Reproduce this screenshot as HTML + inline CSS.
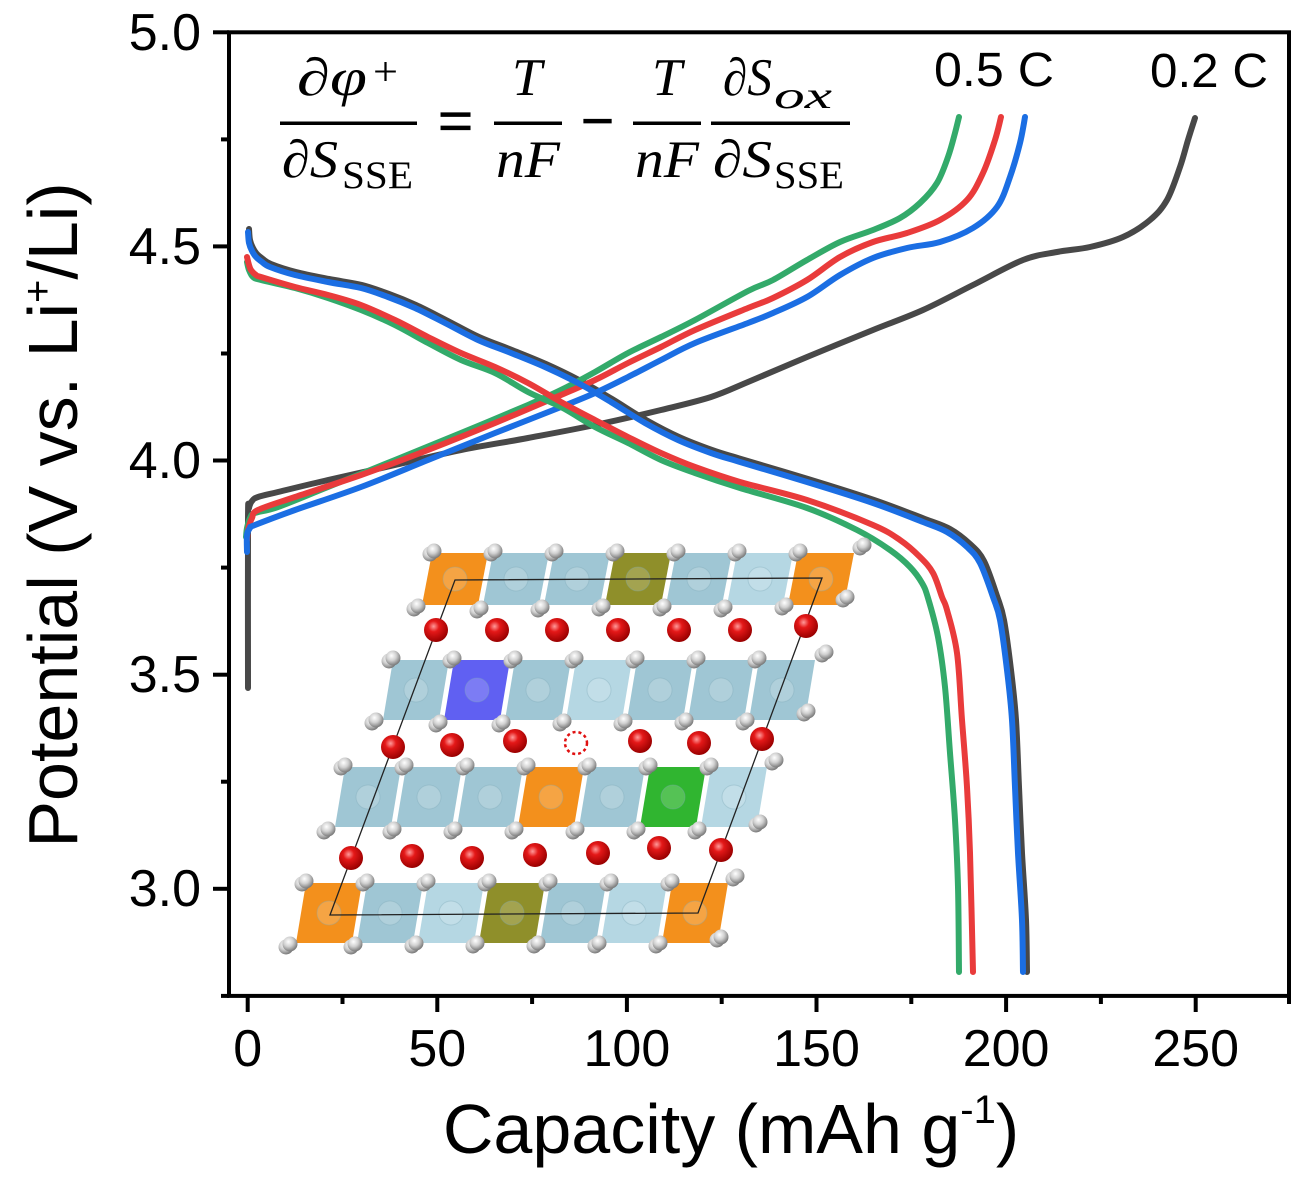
<!DOCTYPE html>
<html>
<head>
<meta charset="utf-8">
<style>
html,body{margin:0;padding:0;background:#fff;}
svg{display:block;}
.tk{font-family:"Liberation Sans",Arial,sans-serif;font-size:52px;fill:#000;}
.lab{font-family:"Liberation Sans",Arial,sans-serif;font-size:70px;fill:#000;}
.eq{font-family:"Liberation Serif","DejaVu Serif",serif;font-style:italic;font-size:53px;fill:#000;}
.equ{font-family:"Liberation Serif","DejaVu Serif",serif;font-style:normal;fill:#000;}
.cv{fill:none;stroke-width:6;stroke-linejoin:round;stroke-linecap:round;}
.lb{fill:#9fc6d4;}
.ll{fill:#b5d7e3;}
.or{fill:#f3901c;}
.ol{fill:#8f8f2a;}
.bl{fill:#6060f2;}
.gr{fill:#30b530;}
</style>
</head>
<body>
<svg width="1298" height="1181" viewBox="0 0 1298 1181" xmlns="http://www.w3.org/2000/svg">
<defs>
<radialGradient id="rg" cx="0.4" cy="0.35" r="0.65">
<stop offset="0" stop-color="#ff9a9a"/>
<stop offset="0.35" stop-color="#e41818"/>
<stop offset="1" stop-color="#9a0000"/>
</radialGradient>
<radialGradient id="wg" cx="0.4" cy="0.35" r="0.65">
<stop offset="0" stop-color="#ffffff"/>
<stop offset="0.5" stop-color="#d0d0d0"/>
<stop offset="1" stop-color="#7a7a7a"/>
</radialGradient>
<g id="ws"><circle cx="-4" cy="3" r="7.5" fill="url(#wg)"/><circle cx="0" cy="0" r="7.5" fill="url(#wg)"/></g>
<circle id="rs" cx="0" cy="0" r="12" fill="url(#rg)"/>
</defs>

<!-- axes frame -->
<rect x="229" y="32.3" width="1060" height="963.6" fill="none" stroke="#000" stroke-width="4"/>
<g stroke="#000" stroke-width="4">
<line x1="213" y1="32.3" x2="229" y2="32.3"/>
<line x1="213" y1="246.4" x2="229" y2="246.4"/>
<line x1="213" y1="460.5" x2="229" y2="460.5"/>
<line x1="213" y1="674.7" x2="229" y2="674.7"/>
<line x1="213" y1="888.8" x2="229" y2="888.8"/>
<line x1="221" y1="139.4" x2="229" y2="139.4"/>
<line x1="221" y1="353.5" x2="229" y2="353.5"/>
<line x1="221" y1="567.6" x2="229" y2="567.6"/>
<line x1="221" y1="781.7" x2="229" y2="781.7"/>
<line x1="221" y1="995.9" x2="229" y2="995.9"/>
<line x1="247.7" y1="996" x2="247.7" y2="1012"/>
<line x1="437.3" y1="996" x2="437.3" y2="1012"/>
<line x1="626.9" y1="996" x2="626.9" y2="1012"/>
<line x1="816.5" y1="996" x2="816.5" y2="1012"/>
<line x1="1006.1" y1="996" x2="1006.1" y2="1012"/>
<line x1="1195.7" y1="996" x2="1195.7" y2="1012"/>
<line x1="342.5" y1="996" x2="342.5" y2="1004"/>
<line x1="532.1" y1="996" x2="532.1" y2="1004"/>
<line x1="721.7" y1="996" x2="721.7" y2="1004"/>
<line x1="911.3" y1="996" x2="911.3" y2="1004"/>
<line x1="1100.9" y1="996" x2="1100.9" y2="1004"/>
<line x1="1289" y1="996" x2="1289" y2="1004"/>
</g>

<g class="tk" text-anchor="end">
<text x="201" y="50">5.0</text>
<text x="201" y="264">4.5</text>
<text x="201" y="478">4.0</text>
<text x="201" y="692">3.5</text>
<text x="201" y="906">3.0</text>
</g>
<g class="tk" text-anchor="middle">
<text x="247.7" y="1066">0</text>
<text x="437.3" y="1066">50</text>
<text x="626.9" y="1066">100</text>
<text x="816.5" y="1066">150</text>
<text x="1006.1" y="1066">200</text>
<text x="1195.7" y="1066">250</text>
</g>

<text class="lab" transform="translate(77,515) rotate(-90)" text-anchor="middle">Potential (V vs. Li<tspan dy="-26" font-size="40">+</tspan><tspan dy="26">/Li)</tspan></text>
<text class="lab" x="731" y="1153" text-anchor="middle">Capacity (mAh g<tspan dy="-30" font-size="40">-1</tspan><tspan dy="30">)</tspan></text>

<text class="tk" x="934" y="86" textLength="120" lengthAdjust="spacingAndGlyphs" style="font-size:48px">0.5 C</text>
<text class="tk" x="1150" y="87" textLength="118" lengthAdjust="spacingAndGlyphs" style="font-size:48px">0.2 C</text>

<!-- equation -->
<text class="eq" x="297" y="95" textLength="70" lengthAdjust="spacingAndGlyphs">∂φ</text>
<text class="equ" x="373" y="85" font-size="40" textLength="25" lengthAdjust="spacingAndGlyphs">+</text>
<rect x="280" y="121.5" width="137" height="3.5" fill="#000"/>
<text class="eq" x="282" y="177" textLength="56" lengthAdjust="spacingAndGlyphs">∂S</text>
<text class="equ" x="342" y="188" font-size="39" textLength="71" lengthAdjust="spacingAndGlyphs">SSE</text>
<text class="equ" x="438" y="143" font-size="66" stroke="#000" stroke-width="1.2" textLength="35" lengthAdjust="spacingAndGlyphs">=</text>
<text class="eq" x="512" y="95" textLength="30" lengthAdjust="spacingAndGlyphs">T</text>
<rect x="494" y="121.5" width="68" height="3.5" fill="#000"/>
<text class="eq" x="496" y="177" textLength="64" lengthAdjust="spacingAndGlyphs">nF</text>
<text class="equ" x="581" y="143" font-size="66" stroke="#000" stroke-width="1.2" textLength="33" lengthAdjust="spacingAndGlyphs">−</text>
<text class="eq" x="652" y="95" textLength="30" lengthAdjust="spacingAndGlyphs">T</text>
<rect x="633" y="121.5" width="68" height="3.5" fill="#000"/>
<text class="eq" x="635" y="177" textLength="64" lengthAdjust="spacingAndGlyphs">nF</text>
<text class="eq" x="723" y="95" textLength="49" lengthAdjust="spacingAndGlyphs">∂S</text>
<text class="eq" x="774" y="108" style="font-size:38px" textLength="58" lengthAdjust="spacingAndGlyphs">ox</text>
<rect x="711" y="121.5" width="139" height="3.5" fill="#000"/>
<text class="eq" x="713" y="177" textLength="59" lengthAdjust="spacingAndGlyphs">∂S</text>
<text class="equ" x="774" y="188" font-size="39" textLength="70" lengthAdjust="spacingAndGlyphs">SSE</text>

<!-- curves -->
<path class="cv" stroke="#484848" d="M248,688 L248,520 L249,508 L252,501 L258,497 L278,492 L328,480 L395,465 L461,450 L528,438 L595,425 L661,410 L711,397 L748,382 L807,357 L873,330 L923,310 L973,285 L1023,260 L1057,252 L1090,247 L1123,237 L1150,220 L1167,200 L1180,167 L1188,140 L1195,118"/>
<path class="cv" stroke="#484848" d="M249,229 L250,240 L253,248 L257,254 L263,259 L271,264 L296,272 L329,279 L362,285 L389,294 L416,305 L446,320 L479,337 L512,350 L546,364 L579,380 L612,399 L646,420 L679,437 L712,450 L741,459 L808,479 L874,500 L925,519 L950,529 L970,544 L984,561 L997,596 L1004,620 L1011,670 L1016,720 L1019,787 L1022,853 L1026,920 L1027,972"/>
<path class="cv" stroke="#33aa6a" d="M246,537 L247,528 L250,518 L255,513 L278,507 L328,487 L395,460 L461,433 L528,405 L561,390 L595,372 L628,353 L661,337 L695,320 L748,291 L773,280 L807,260 L840,242 L873,230 L900,218 L920,203 L937,183 L948,157 L955,133 L959,117"/>
<path class="cv" stroke="#e93b3b" d="M247,540 L248,530 L252,518 L258,510 L295,497 L361,475 L428,450 L495,423 L561,395 L595,380 L628,363 L661,347 L695,330 L748,308 L773,298 L807,280 L840,257 L873,242 L907,233 L940,220 L967,200 L983,173 L995,140 L1001,117"/>
<path class="cv" stroke="#1b6ee3" d="M247,552 L247,535 L250,528 L255,525 L295,510 L361,487 L428,460 L495,433 L561,407 L595,393 L628,377 L661,360 L695,343 L748,323 L773,313 L807,297 L840,275 L873,258 L907,248 L940,242 L973,228 L997,207 L1010,177 L1020,143 L1025,117"/>
<path class="cv" stroke="#33aa6a" d="M247,262 L249,270 L253,277 L261,280 L295,288 L328,298 L361,310 L395,325 L428,343 L461,360 L495,373 L528,392 L561,407 L595,427 L628,443 L661,460 L695,473 L740,488 L807,508 L857,530 L890,550 L910,567 L922,583 L928,598 L938,637 L945,687 L950,753 L955,820 L958,887 L959,972"/>
<path class="cv" stroke="#e93b3b" d="M247,257 L249,265 L251,270 L256,275 L261,277 L295,287 L328,295 L361,305 L395,320 L428,337 L461,353 L495,367 L528,383 L561,402 L595,420 L628,437 L661,453 L695,467 L740,482 L807,500 L873,525 L900,540 L920,557 L933,573 L942,597 L947,610 L957,653 L962,720 L967,787 L970,853 L973,972"/>
<path class="cv" stroke="#1b6ee3" d="M248,232 L249,243 L252,251 L256,257 L262,262 L270,267 L295,275 L328,282 L361,288 L388,297 L415,308 L445,323 L478,340 L511,353 L545,367 L578,383 L611,402 L645,423 L678,440 L711,453 L740,462 L807,482 L873,503 L923,522 L947,532 L967,547 L980,563 L993,597 L1000,620 L1007,670 L1012,720 L1015,787 L1018,853 L1022,920 L1023,972"/>

<!-- inset crystal structure -->
<g>
<polygon class="or" points="432,553 488,553 478,605 422,605"/>
<polygon class="lb" points="493,553 549,553 539,605 483,605"/>
<polygon class="lb" points="554,553 610,553 600,605 544,605"/>
<polygon class="ol" points="615,553 671,553 661,605 605,605"/>
<polygon class="lb" points="676,553 732,553 722,605 666,605"/>
<polygon class="ll" points="737,553 793,553 783,605 727,605"/>
<polygon class="or" points="798,553 854,553 844,605 788,605"/>
<polygon class="lb" points="393,660 449,660 439,720 383,720"/>
<polygon class="bl" points="454,660 510,660 500,720 444,720"/>
<polygon class="lb" points="515,660 571,660 561,720 505,720"/>
<polygon class="ll" points="576,660 632,660 622,720 566,720"/>
<polygon class="lb" points="637,660 693,660 683,720 627,720"/>
<polygon class="lb" points="698,660 754,660 744,720 688,720"/>
<polygon class="lb" points="759,660 815,660 805,720 749,720"/>
<polygon class="lb" points="345,767 401,767 391,827 335,827"/>
<polygon class="lb" points="406,767 462,767 452,827 396,827"/>
<polygon class="lb" points="467,767 523,767 513,827 457,827"/>
<polygon class="or" points="528,767 584,767 574,827 518,827"/>
<polygon class="lb" points="589,767 645,767 635,827 579,827"/>
<polygon class="gr" points="650,767 706,767 696,827 640,827"/>
<polygon class="ll" points="711,767 767,767 757,827 701,827"/>
<polygon class="or" points="306,883 362,883 352,943 296,943"/>
<polygon class="lb" points="367,883 423,883 413,943 357,943"/>
<polygon class="ll" points="428,883 484,883 474,943 418,943"/>
<polygon class="ol" points="489,883 545,883 535,943 479,943"/>
<polygon class="lb" points="550,883 606,883 596,943 540,943"/>
<polygon class="ll" points="611,883 667,883 657,943 601,943"/>
<polygon class="or" points="672,883 728,883 718,943 662,943"/>

<g fill="#ffffff" fill-opacity="0.18" stroke="#7fa9b8" stroke-opacity="0.35" stroke-width="1">
<circle cx="455" cy="579" r="12"/><circle cx="516" cy="579" r="12"/><circle cx="577" cy="579" r="12"/><circle cx="638" cy="579" r="12"/><circle cx="699" cy="579" r="12"/><circle cx="760" cy="579" r="12"/><circle cx="821" cy="579" r="12"/>
<circle cx="416" cy="690" r="12"/><circle cx="477" cy="690" r="12"/><circle cx="538" cy="690" r="12"/><circle cx="599" cy="690" r="12"/><circle cx="660" cy="690" r="12"/><circle cx="721" cy="690" r="12"/><circle cx="782" cy="690" r="12"/>
<circle cx="368" cy="797" r="12"/><circle cx="429" cy="797" r="12"/><circle cx="490" cy="797" r="12"/><circle cx="551" cy="797" r="12"/><circle cx="612" cy="797" r="12"/><circle cx="673" cy="797" r="12"/><circle cx="734" cy="797" r="12"/>
<circle cx="329" cy="913" r="12"/><circle cx="390" cy="913" r="12"/><circle cx="451" cy="913" r="12"/><circle cx="512" cy="913" r="12"/><circle cx="573" cy="913" r="12"/><circle cx="634" cy="913" r="12"/><circle cx="695" cy="913" r="12"/>
</g>

<polygon points="455,580 822,578 698,913 330,915" fill="none" stroke="#222" stroke-width="1.3"/>

<use href="#rs" x="436" y="630"/><use href="#rs" x="497" y="630"/><use href="#rs" x="557" y="630"/><use href="#rs" x="618" y="630"/><use href="#rs" x="679" y="630"/><use href="#rs" x="740" y="630"/><use href="#rs" x="806" y="626"/>
<use href="#rs" x="393" y="747"/><use href="#rs" x="452" y="745"/><use href="#rs" x="515" y="741"/><use href="#rs" x="640" y="741"/><use href="#rs" x="699" y="743"/><use href="#rs" x="762" y="739"/>
<use href="#rs" x="351" y="858"/><use href="#rs" x="412" y="856"/><use href="#rs" x="472" y="858"/><use href="#rs" x="535" y="855"/><use href="#rs" x="598" y="853"/><use href="#rs" x="659" y="848"/><use href="#rs" x="721" y="850"/>
<circle cx="576" cy="743" r="11" fill="none" stroke="#e01010" stroke-width="2.5" stroke-dasharray="3,3"/>

<use href="#ws" x="434" y="551"/><use href="#ws" x="495" y="551"/><use href="#ws" x="556" y="551"/><use href="#ws" x="617" y="551"/><use href="#ws" x="678" y="551"/><use href="#ws" x="739" y="551"/><use href="#ws" x="800" y="551"/><use href="#ws" x="864" y="545"/>
<use href="#ws" x="418" y="606"/><use href="#ws" x="481" y="608"/><use href="#ws" x="542" y="607"/><use href="#ws" x="603" y="606"/><use href="#ws" x="664" y="606"/><use href="#ws" x="725" y="607"/><use href="#ws" x="786" y="605"/><use href="#ws" x="847" y="597"/>
<use href="#ws" x="393" y="658"/><use href="#ws" x="454" y="658"/><use href="#ws" x="515" y="658"/><use href="#ws" x="576" y="658"/><use href="#ws" x="637" y="658"/><use href="#ws" x="698" y="658"/><use href="#ws" x="759" y="658"/><use href="#ws" x="826" y="652"/>
<use href="#ws" x="376" y="720"/><use href="#ws" x="440" y="722"/><use href="#ws" x="503" y="722"/><use href="#ws" x="564" y="721"/><use href="#ws" x="625" y="721"/><use href="#ws" x="686" y="720"/><use href="#ws" x="747" y="720"/><use href="#ws" x="808" y="711"/>
<use href="#ws" x="345" y="765"/><use href="#ws" x="406" y="765"/><use href="#ws" x="467" y="765"/><use href="#ws" x="528" y="765"/><use href="#ws" x="589" y="765"/><use href="#ws" x="650" y="765"/><use href="#ws" x="711" y="765"/><use href="#ws" x="776" y="760"/>
<use href="#ws" x="328" y="829"/><use href="#ws" x="394" y="829"/><use href="#ws" x="455" y="829"/><use href="#ws" x="516" y="829"/><use href="#ws" x="577" y="829"/><use href="#ws" x="638" y="829"/><use href="#ws" x="699" y="829"/><use href="#ws" x="760" y="822"/>
<use href="#ws" x="306" y="881"/><use href="#ws" x="367" y="881"/><use href="#ws" x="428" y="881"/><use href="#ws" x="489" y="881"/><use href="#ws" x="550" y="881"/><use href="#ws" x="611" y="881"/><use href="#ws" x="672" y="881"/><use href="#ws" x="737" y="876"/>
<use href="#ws" x="290" y="944"/><use href="#ws" x="355" y="944"/><use href="#ws" x="416" y="943"/><use href="#ws" x="477" y="943"/><use href="#ws" x="538" y="943"/><use href="#ws" x="599" y="943"/><use href="#ws" x="660" y="943"/><use href="#ws" x="721" y="937"/>
</g>
</svg>
<script>
(function(){
  var paths=document.querySelectorAll('path.cv');
  for(var i=0;i<paths.length;i++){
    var d=paths[i].getAttribute('d');
    var nums=d.replace(/[ML]/g,' ').trim().split(/[\s,]+/).map(Number);
    var p=[];
    for(var j=0;j+1<nums.length;j+=2){p.push([nums[j],nums[j+1]]);}
    if(p.length<3)continue;
    var s='M'+p[0][0]+','+p[0][1];
    for(var k=0;k<p.length-1;k++){
      var p0=p[k-1]||p[k],p1=p[k],p2=p[k+1],p3=p[k+2]||p[k+1];
      var c1x=p1[0]+(p2[0]-p0[0])/6,c1y=p1[1]+(p2[1]-p0[1])/6;
      var c2x=p2[0]-(p3[0]-p1[0])/6,c2y=p2[1]-(p3[1]-p1[1])/6;
      s+=' C'+c1x.toFixed(1)+','+c1y.toFixed(1)+' '+c2x.toFixed(1)+','+c2y.toFixed(1)+' '+p2[0]+','+p2[1];
    }
    paths[i].setAttribute('d',s);
  }
})();
</script>
</body>
</html>
